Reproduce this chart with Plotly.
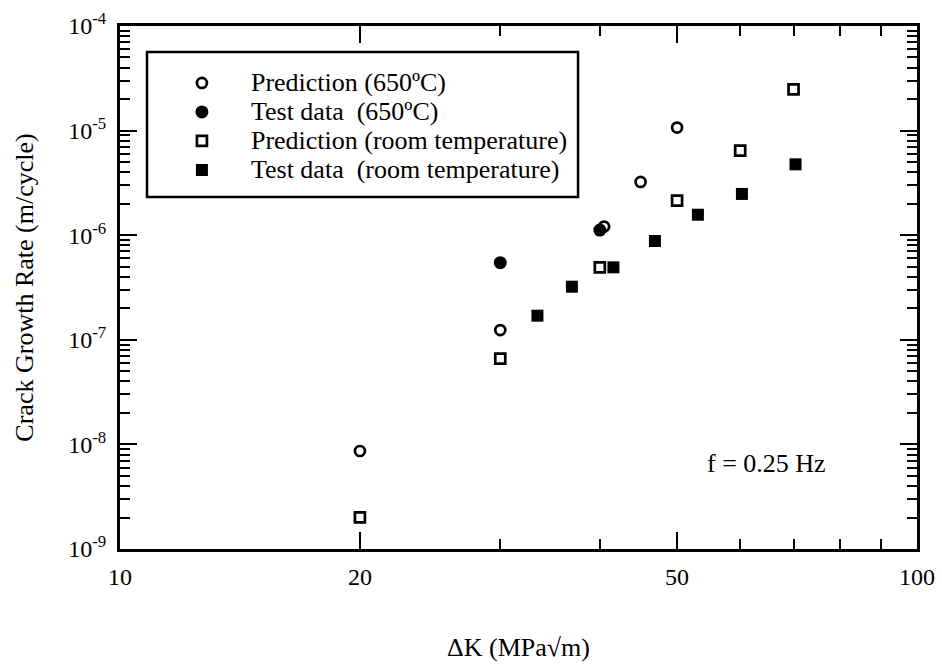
import plotly.graph_objects as go

# ---- data ----
pred650_dk = [20, 30, 40.5, 45, 50]
pred650_rate = [8.65e-9, 1.24e-7, 1.21e-6, 3.23e-6, 1.07e-5]

test650_dk = [30, 40]
test650_rate = [5.46e-7, 1.12e-6]

predRT_dk = [20, 30, 40, 50, 60, 70]
predRT_rate = [2.01e-9, 6.6e-8, 4.93e-7, 2.14e-6, 6.43e-6, 2.48e-5]

testRT_dk = [33.4, 36.9, 41.6, 46.9, 53.1, 60.3, 70.4]
testRT_rate = [1.70e-7, 3.22e-7, 4.93e-7, 8.8e-7, 1.57e-6, 2.48e-6, 4.76e-6]

series_names = ["Prediction (650ºC)", "Test data  (650ºC)",
                "Prediction (room temperature)", "Test data  (room temperature)"]

x_major = [10, 20, 50, 100]
x_major_text = ["10", "20", "50", "100"]
x_minor = [30, 40, 60, 70, 80, 90]
y_major = [1e-9, 1e-8, 1e-7, 1e-6, 1e-5, 1e-4]
y_major_text = ["10<sup>-9</sup>", "10<sup>-8</sup>", "10<sup>-7</sup>",
                "10<sup>-6</sup>", "10<sup>-5</sup>", "10<sup>-4</sup>"]
y_minor = [m * 10.0 ** e for e in range(-9, -4) for m in range(2, 10)]

FONT = "Liberation Serif, Times New Roman, serif"


def legend_label(s):
    # larger glyphs than the legend's nominal size, so entries stay tightly spaced
    return '<span style="font-size:26px">' + s + "</span>"


fig = go.Figure()
fig.add_trace(go.Scatter(x=pred650_dk, y=pred650_rate, mode="markers",
                         name=legend_label(series_names[0]),
                         marker=dict(symbol="circle-open", size=10, color="black",
                                     line=dict(width=2.7, color="black"))))
fig.add_trace(go.Scatter(x=test650_dk, y=test650_rate, mode="markers",
                         name=legend_label(series_names[1]),
                         marker=dict(symbol="circle", size=13, color="black")))
fig.add_trace(go.Scatter(x=predRT_dk, y=predRT_rate, mode="markers",
                         name=legend_label(series_names[2]),
                         marker=dict(symbol="square-open", size=10, color="black",
                                     line=dict(width=2.7, color="black"))))
fig.add_trace(go.Scatter(x=testRT_dk, y=testRT_rate, mode="markers",
                         name=legend_label(series_names[3]),
                         marker=dict(symbol="square", size=12, color="black")))

fig.update_layout(
    template="none",
    width=942, height=665,
    margin=dict(l=120, r=25, t=26, b=116, autoexpand=False),
    paper_bgcolor="white", plot_bgcolor="white",
    font=dict(family=FONT, size=24, color="black"),
    showlegend=True,
    legend=dict(x=0.0413, y=0.9285, xanchor="left", yanchor="top",
                bgcolor="rgba(0,0,0,0)", borderwidth=0,
                font=dict(family=FONT, size=20, color="black"),
                itemwidth=88, traceorder="normal"),
    xaxis=dict(type="log", range=[1, 2], tickvals=x_major, ticktext=x_major_text,
               automargin=False,
               ticks="inside", ticklen=17, tickwidth=2, tickcolor="black",
               showline=True, linewidth=3, linecolor="black", mirror="ticks",
               showgrid=False, zeroline=False, ticklabelstandoff=4,
               tickfont=dict(family=FONT, size=24),
               minor=dict(tickvals=x_minor, ticks="inside", ticklen=10,
                          tickwidth=2, tickcolor="black", showgrid=False),
               title=dict(text="ΔK (MPa√m)", standoff=50,
                          font=dict(family=FONT, size=26))),
    yaxis=dict(type="log", range=[-9, -4], tickvals=y_major, ticktext=y_major_text,
               automargin=False,
               ticks="inside", ticklen=17, tickwidth=2, tickcolor="black",
               showline=True, linewidth=3, linecolor="black", mirror="ticks",
               showgrid=False, zeroline=False, ticklabelstandoff=6,
               tickfont=dict(family=FONT, size=24),
               minor=dict(tickvals=y_minor, ticks="inside", ticklen=10,
                          tickwidth=2, tickcolor="black", showgrid=False),
               title=dict(text="Crack Growth Rate (m/cycle)", standoff=28,
                          font=dict(family=FONT, size=26))),
)

# legend frame
fig.add_shape(type="rect", xref="paper", yref="paper",
              x0=0.0339, x1=0.5747, y0=0.673, y1=0.9503,
              line=dict(color="black", width=2.5), fillcolor="rgba(0,0,0,0)")

fig.add_annotation(text="f = 0.25 Hz", xref="paper", yref="paper",
                   x=0.8106, y=0.1644, xanchor="center", yanchor="middle",
                   showarrow=False,
                   font=dict(family=FONT, size=26, color="black"))

fig.write_html("out.html")
